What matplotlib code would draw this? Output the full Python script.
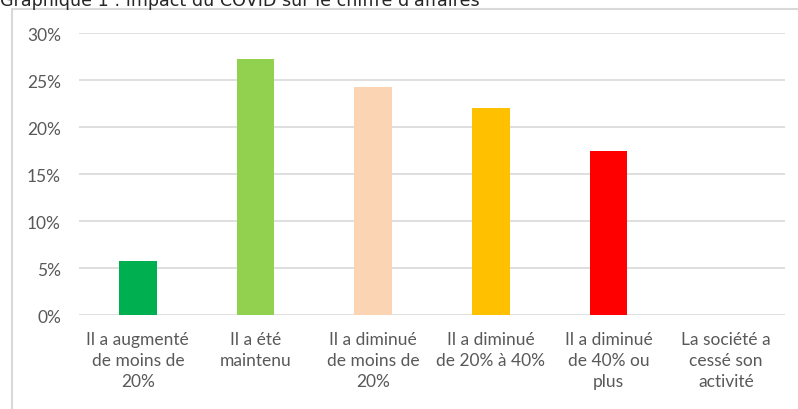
import matplotlib.pyplot as plt
from matplotlib.patches import Rectangle
from matplotlib.ticker import PercentFormatter

# Impact du COVID sur le chiffre d'affaires
categories = ["Il a augmenté\nde moins de\n20%", "Il a été\nmaintenu",
              "Il a diminué\nde moins de\n20%", "Il a diminué\nde 20% à 40%",
              "Il a diminué\nde 40% ou\nplus", "La société a\ncessé son\nactivité"]
values = [0.058, 0.273, 0.243, 0.221, 0.175, 0.0]
colors = ["#00B050", "#92D050", "#FBD4B4", "#FFC000", "#FF0000", "#A6A6A6"]
yticks = [0, 0.05, 0.10, 0.15, 0.20, 0.25, 0.30]

plt.rcParams['font.family'] = ['Lato', 'DejaVu Sans']

fig = plt.figure(figsize=(7.98, 4.10), dpi=100)
ax = fig.add_axes([79 / 798, 93.7 / 410, 706 / 798, 282 / 410])

ax.bar(range(len(values)), values, width=0.32, color=colors, zorder=3)
ax.set_xlim(-0.5, len(values) - 0.5)
ax.set_ylim(0, 0.30)
ax.set_yticks(yticks)
ax.yaxis.set_major_formatter(PercentFormatter(1.0, decimals=0))
ax.set_xticks(range(len(values)))
ax.set_xticklabels(categories, linespacing=1.4)
ax.grid(axis='y', color='#D9D9D9', linewidth=1.2, zorder=0)
ax.tick_params(length=0, labelsize=12.5, labelcolor='#595959')
ax.tick_params(axis='y', pad=13)
ax.tick_params(axis='x', pad=11)
for s in ax.spines.values():
    s.set_visible(False)

# chart border
fig.patches.append(Rectangle((12 / 798, -0.1), 1.1, 1.1 - 10 / 410,
                             transform=fig.transFigure, fill=False,
                             edgecolor='#D9D9D9', linewidth=1.5))

fig.text(0.0, 1 - 6 / 410, "Graphique 1 : Impact du COVID sur le chiffre d'affaires",
         fontsize=12.6, color='#262626', va='baseline', ha='left',
         family=['DejaVu Sans'])

fig.savefig("out.png", dpi=100)
